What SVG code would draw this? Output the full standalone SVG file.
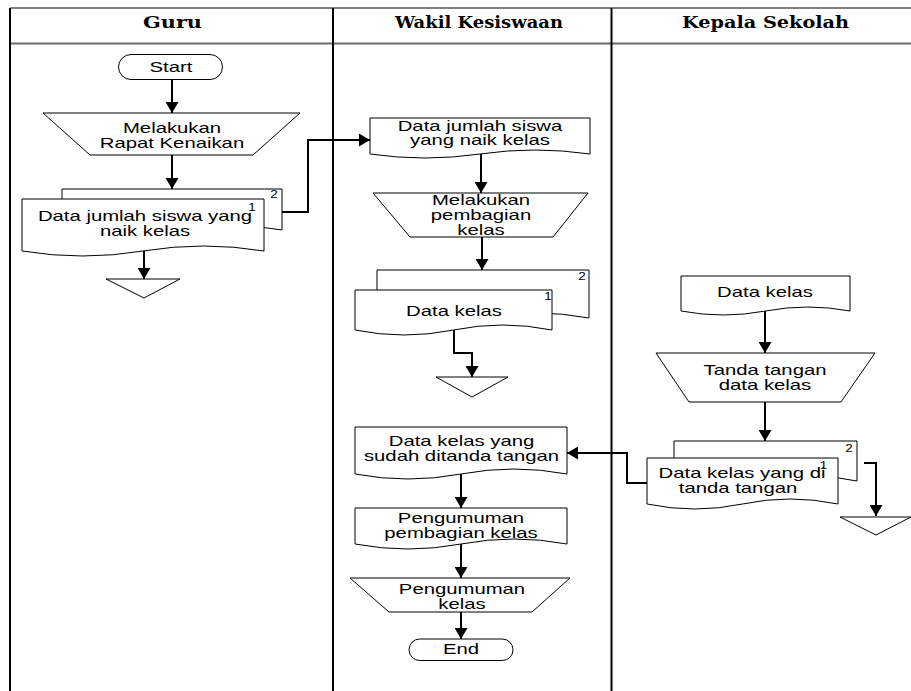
<svg xmlns="http://www.w3.org/2000/svg" width="911" height="691" viewBox="0 0 911 691">
<style>
.lane{stroke:#000;stroke-width:2;fill:none}
.hl{stroke:#6b6b6b;stroke-width:2;fill:none}
.sh{fill:#fff;stroke:#000;stroke-width:1}
.c{fill:none;stroke:#000;stroke-width:2;marker-end:url(#ah)}
.t{font-family:"Liberation Sans",Arial,sans-serif;font-size:14.5px;text-anchor:middle;fill:#000}
.n{font-family:"Liberation Sans",Arial,sans-serif;font-size:10px;text-anchor:middle;fill:#000}
.h{font-family:"DejaVu Serif","Liberation Serif",serif;font-size:16px;font-weight:bold;text-anchor:middle;fill:#000}
</style>
<defs>
<marker id="ah" viewBox="0 0 11 13" refX="11" refY="6.5" markerWidth="11" markerHeight="13" markerUnits="userSpaceOnUse" orient="auto">
<path d="M0,0 L11,6.5 L0,13 Z" fill="#000"/>
</marker>
</defs>
<rect x="0" y="0" width="911" height="691" fill="#fff"/>
<g id="lanes">
<line x1="10" y1="8" x2="911" y2="8" stroke="#000" stroke-width="1"/>
<line class="hl" x1="10" y1="43.5" x2="911" y2="43.5"/>
<line class="lane" x1="10" y1="8" x2="10" y2="691"/>
<line class="lane" x1="333" y1="8" x2="333" y2="691"/>
<line class="lane" x1="611.5" y1="8" x2="611.5" y2="691"/>
<text class="h" x="172.5" y="28" textLength="59" lengthAdjust="spacingAndGlyphs">Guru</text>
<text class="h" x="479" y="28" textLength="168" lengthAdjust="spacingAndGlyphs">Wakil Kesiswaan</text>
<text class="h" x="765.5" y="28" textLength="167" lengthAdjust="spacingAndGlyphs">Kepala Sekolah</text>
</g>
<g id="connectors">
<path class="c" d="M172,79 V113"/>
<path class="c" d="M172,155 V189"/>
<path class="c" d="M282,212 H308 V140 H370"/>
<path class="c" d="M144,251 V279"/>
<path class="c" d="M481,154 V193"/>
<path class="c" d="M482,237 V270"/>
<path class="c" d="M454,330 V353 H472 V377"/>
<path class="c" d="M765,311 V353"/>
<path class="c" d="M765,402 V441"/>
<path class="c" d="M647,483 H627 V453 H567"/>
<path class="c" d="M864,463 H876 V516"/>
<path class="c" d="M461,474 V508"/>
<path class="c" d="M461,544 V578"/>
<path class="c" d="M461,612 V639"/>
</g>
<g id="start">
<rect class="sh" x="118.5" y="54.5" width="104" height="25" rx="12.5"/>
<text class="t" transform="translate(171,0) scale(1.4,1)" x="0" y="72.5">Start</text>
</g>
<g id="rapat">
<path class="sh" d="M43,113 H300 L253,155 H90 Z"/>
<text class="t" transform="translate(172,0) scale(1.4,1)"><tspan x="0" y="133">Melakukan</tspan><tspan x="0" y="148.5">Rapat Kenaikan</tspan></text>
</g>
<g id="guru-doc">
<path class="sh" d="M62,189 H282 V230 Q227,220 172,230 Q117,240 62,230 Z"/>
<path class="sh" d="M22,199 H264 V251 Q203.5,241 143,251 Q82.5,261 22,251 Z"/>
<text class="n" transform="translate(274,0) scale(1.35,1)" x="0" y="198">2</text>
<text class="n" transform="translate(252,0) scale(1.35,1)" x="0" y="211">1</text>
<text class="t" transform="translate(145,0) scale(1.4,1)"><tspan x="0" y="221.5">Data jumlah siswa yang</tspan><tspan x="0" y="236">naik kelas</tspan></text>
</g>
<g id="guru-off">
<path class="sh" d="M106,279 H180 L144,298 Z"/>
</g>
<g id="wk-doc1">
<path class="sh" d="M370,118 H590 V154 Q535,146 480,154 Q425,162 370,154 Z"/>
<text class="t" transform="translate(480,0) scale(1.4,1)"><tspan x="0" y="131.5">Data jumlah siswa</tspan><tspan x="0" y="145">yang naik kelas</tspan></text>
</g>
<g id="wk-bagi">
<path class="sh" d="M373,193 H588 L553,237 H410 Z"/>
<text class="t" transform="translate(481,0) scale(1.4,1)"><tspan x="0" y="205.5">Melakukan</tspan><tspan x="0" y="220.5">pembagian</tspan><tspan x="0" y="235.5">kelas</tspan></text>
</g>
<g id="wk-datakelas">
<path class="sh" d="M377,270 H589 V318 Q536,308 483,318 Q430,328 377,318 Z"/>
<path class="sh" d="M355,290 H552 V330 Q502.75,320 453.5,330 Q404.25,340 355,330 Z"/>
<text class="n" transform="translate(582,0) scale(1.35,1)" x="0" y="280.5">2</text>
<text class="n" transform="translate(548,0) scale(1.35,1)" x="0" y="300.5">1</text>
<text class="t" transform="translate(454,0) scale(1.4,1)" x="0" y="316.5">Data kelas</text>
</g>
<g id="wk-off">
<path class="sh" d="M436,377 H508 L472,397 Z"/>
</g>
<g id="wk-ttd">
<path class="sh" d="M355,427 H567 V474 Q514,464 461,474 Q408,484 355,474 Z"/>
<text class="t" transform="translate(461.5,0) scale(1.4,1)"><tspan x="0" y="446">Data kelas yang</tspan><tspan x="0" y="461">sudah ditanda tangan</tspan></text>
</g>
<g id="wk-pengumuman-doc">
<path class="sh" d="M355,508 H567 V544 Q514,534 461,544 Q408,554 355,544 Z"/>
<text class="t" transform="translate(461,0) scale(1.4,1)"><tspan x="0" y="523">Pengumuman</tspan><tspan x="0" y="538">pembagian kelas</tspan></text>
</g>
<g id="wk-pengumuman-op">
<path class="sh" d="M350,578 H570 L532,612 H389 Z"/>
<text class="t" transform="translate(462,0) scale(1.4,1)"><tspan x="0" y="594.5">Pengumuman</tspan><tspan x="0" y="609">kelas</tspan></text>
</g>
<g id="end">
<rect class="sh" x="409" y="639" width="104" height="21.5" rx="10.75"/>
<text class="t" transform="translate(461,0) scale(1.4,1)" x="0" y="654.5">End</text>
</g>
<g id="ks-datakelas">
<path class="sh" d="M681,276 H850 V311 Q807.75,303 765.5,311 Q723.25,319 681,311 Z"/>
<text class="t" transform="translate(765,0) scale(1.4,1)" x="0" y="297.5">Data kelas</text>
</g>
<g id="ks-ttd">
<path class="sh" d="M656,353 H875 L841,402 H689 Z"/>
<text class="t" transform="translate(765,0) scale(1.4,1)"><tspan x="0" y="375">Tanda tangan</tspan><tspan x="0" y="390">data kelas</tspan></text>
</g>
<g id="ks-doc">
<path class="sh" d="M674,441 H857 V481 Q811.25,471 765.5,481 Q719.75,491 674,481 Z"/>
<path class="sh" d="M647,458 H838 V504 Q790.25,494 742.5,504 Q694.75,514 647,504 Z"/>
<text class="n" transform="translate(849,0) scale(1.35,1)" x="0" y="452">2</text>
<text class="n" transform="translate(823.5,0) scale(1.35,1)" x="0" y="469">1</text>
<text class="t" transform="translate(742,0) scale(1.4,1)" x="0" y="478.5">Data kelas yang di</text>
<text class="t" transform="translate(738,0) scale(1.4,1)" x="0" y="493.5">tanda tangan</text>
</g>
<g id="ks-off">
<path class="sh" d="M840,517 H911 L876,535 Z"/>
</g>
</svg>
